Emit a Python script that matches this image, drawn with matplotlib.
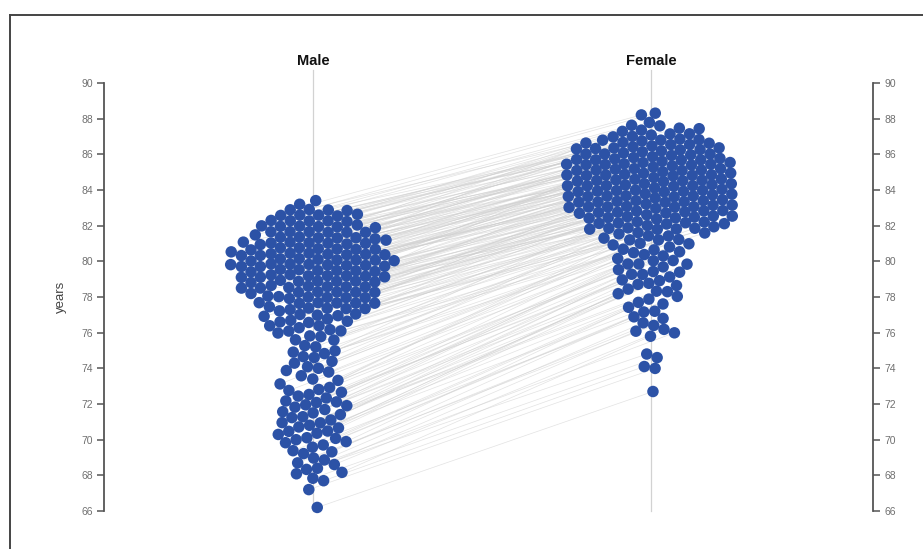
import numpy as np
import matplotlib
matplotlib.use("Agg")
import matplotlib.pyplot as plt
from matplotlib.lines import Line2D

# ---------------- data (life expectancy, years) ----------------
categories = ["Male", "Female"]

male = [
    83.4,
    83.1, 82.9, 82.8, 82.8, 82.7,
    82.6, 82.6, 82.5, 82.4, 82.4, 82.3, 82.3, 82.2, 82.2, 82.1, 82.1,
    82.0, 81.9, 81.9, 81.9, 81.8, 81.8, 81.7, 81.7, 81.6, 81.6, 81.5, 81.5,
    81.4, 81.4, 81.3, 81.3, 81.2, 81.2, 81.2, 81.1, 81.1, 81.0, 81.0, 81.0, 80.9, 80.9,
    80.8, 80.8, 80.7, 80.7, 80.7, 80.6, 80.6, 80.6, 80.5, 80.5, 80.5, 80.4, 80.4, 80.4, 80.3, 80.3,
    80.2, 80.2, 80.2, 80.1, 80.1, 80.1, 80.0, 80.0, 80.0, 80.0, 79.9, 79.9, 79.9, 79.8, 79.8, 79.8,
    79.7, 79.7, 79.7, 79.6, 79.6, 79.6, 79.5, 79.5, 79.5, 79.4, 79.4, 79.4, 79.3, 79.3, 79.3, 79.2,
    79.2, 79.2, 79.1, 79.1, 79.1, 79.0, 79.0, 79.0, 78.9, 78.9, 78.9, 78.8, 78.8, 78.8, 78.7, 78.7,
    78.6, 78.6, 78.6, 78.5, 78.5, 78.4, 78.4, 78.4, 78.3, 78.3, 78.2, 78.2, 78.1, 78.1, 78.0,
    78.0, 77.9, 77.9, 77.8, 77.8, 77.7, 77.7, 77.6, 77.6, 77.5, 77.5, 77.4, 77.4,
    77.3, 77.2, 77.2, 77.1, 77.0, 77.0, 76.9, 76.9, 76.8, 76.7,
    76.6, 76.5, 76.5, 76.4, 76.3, 76.3, 76.2, 76.1,
    76.0, 75.9, 75.8, 75.6, 75.5,
    75.3, 75.1, 75.0, 74.9, 74.8, 74.7, 74.6, 74.5,
    74.3, 74.1, 74.0, 73.9, 73.8, 73.6, 73.4, 73.3,
    73.1, 72.9, 72.8, 72.7, 72.6, 72.5, 72.4, 72.3, 72.2, 72.2, 72.1, 72.0,
    71.9, 71.8, 71.7, 71.6, 71.5, 71.4, 71.3, 71.2, 71.1, 71.0, 70.9, 70.8, 70.7,
    70.6, 70.5, 70.5, 70.4, 70.3, 70.2, 70.1, 70.0, 69.9, 69.8, 69.7,
    69.5, 69.4, 69.3, 69.2, 69.0, 68.8, 68.7, 68.6, 68.5, 68.3, 68.2, 68.1, 67.9, 67.7,
    67.2, 66.2,
]

female = [
    88.3, 88.2,
    87.8, 87.6, 87.5,
    87.3, 87.2, 87.1, 87.0, 87.0, 86.9, 86.9,
    86.8, 86.7, 86.7, 86.6, 86.6, 86.5, 86.5, 86.4, 86.4, 86.3, 86.3,
    86.2, 86.2, 86.1, 86.1, 86.1, 86.0, 86.0, 86.0, 85.9, 85.9, 85.9, 85.9, 85.8, 85.8, 85.8, 85.7, 85.7,
    85.7, 85.6, 85.6, 85.6, 85.5, 85.5, 85.5, 85.5, 85.4, 85.4, 85.4, 85.3, 85.3, 85.3, 85.3, 85.2, 85.2, 85.2,
    85.1, 85.1, 85.1, 85.1, 85.0, 85.0, 85.0, 85.0, 84.9, 84.9, 84.9, 84.9, 84.8, 84.8, 84.8, 84.7, 84.7, 84.7, 84.7,
    84.6, 84.6, 84.6, 84.6, 84.5, 84.5, 84.5, 84.5, 84.4, 84.4, 84.4, 84.3, 84.3, 84.3, 84.3, 84.2, 84.2, 84.2, 84.2, 84.1, 84.1, 84.1,
    84.0, 84.0, 84.0, 84.0, 83.9, 83.9, 83.9, 83.9, 83.8, 83.8, 83.8, 83.7, 83.7, 83.7, 83.7, 83.6, 83.6, 83.6, 83.5, 83.5, 83.5,
    83.4, 83.4, 83.4, 83.3, 83.3, 83.3, 83.3, 83.2, 83.2, 83.2, 83.1, 83.1, 83.1, 83.0, 83.0, 83.0, 82.9, 82.9, 82.9,
    82.8, 82.8, 82.7, 82.7, 82.7, 82.6, 82.6, 82.5, 82.5, 82.5, 82.4, 82.4, 82.3, 82.3, 82.3, 82.2, 82.2,
    82.1, 82.1, 82.0, 82.0, 81.9, 81.9, 81.8, 81.8, 81.7, 81.7, 81.6, 81.6, 81.5,
    81.4, 81.3, 81.2, 81.1, 81.0, 80.9, 80.8, 80.7,
    80.6, 80.5, 80.5, 80.4, 80.3, 80.2, 80.1, 80.0, 79.9,
    79.8, 79.8, 79.7, 79.6, 79.5, 79.4, 79.3, 79.2, 79.1, 79.0,
    78.9, 78.8, 78.7, 78.6, 78.5, 78.4, 78.3, 78.2, 78.1,
    77.9, 77.7, 77.6, 77.4, 77.2, 77.1, 76.9, 76.8,
    76.6, 76.4, 76.2, 76.1, 76.0, 75.8,
    74.8, 74.6, 74.1, 74.0,
    72.7,
]

y_ticks = [66, 68, 70, 72, 74, 76, 78, 80, 82, 84, 86, 88, 90]
y_label = "years"

# ---------------- layout ----------------
W, H = 923, 549
fig = plt.figure(figsize=(W / 100, H / 100), dpi=100)
ax_left_px, ax_right_px = 104, 873
ax_top_px, ax_bot_px = 83, 511
ax = fig.add_axes([ax_left_px / W, 1 - ax_bot_px / H,
                   (ax_right_px - ax_left_px) / W, (ax_bot_px - ax_top_px) / H])

ymin, ymax = 66, 90
ax.set_ylim(ymin, ymax)
px_per_year = (ax_bot_px - ax_top_px) / (ymax - ymin)

cat_px = [313, 651]          # pixel centres of the two columns
sep_px = cat_px[1] - cat_px[0]
ax.set_xlim(-(cat_px[0] - ax_left_px) / sep_px, 1 + (ax_right_px - cat_px[1]) / sep_px)


def swarm(values, d_px, iters=800):
    """Force-style beeswarm (collision + x centring + y anchoring).
    Returns x offsets (pixels) and displayed y (data units)."""
    vals = np.asarray(values, float)
    y0 = vals * px_per_year
    n = len(vals)
    k = np.arange(n)
    ang = k * np.pi * (3 - np.sqrt(5))
    x = 1.5 * np.sqrt(k + 0.5) * np.cos(ang)
    y = y0.copy()
    eye = np.eye(n, dtype=bool)
    for it in range(iters):
        for _ in range(5):
            dx = x[:, None] - x[None, :]
            dy = y[:, None] - y[None, :]
            dist = np.sqrt(dx ** 2 + dy ** 2)
            dist[eye] = np.inf
            dist = np.maximum(dist, 1e-3)
            ov = np.clip(d_px - dist, 0, None)
            f = ov / dist * 0.5
            x = x + (dx * f).sum(axis=1) * 1.0
            y = y + (dy * f).sum(axis=1) * 0.5
        x = x - x * 0.002
        y = y + (y0 - y) * 0.05
    return x, y / px_per_year


D = 11.0
mxp, my = swarm(male, D)
fxp, fy = swarm(female, D)
mx = mxp / sep_px + 0
fx = fxp / sep_px + 1

m_arr = np.asarray(male)
f_arr = np.asarray(female)
mi = np.argsort(m_arr, kind="stable")
fi = np.argsort(f_arr, kind="stable")

# connecting lines (rank-matched pairs)
for a, b in zip(mi, fi):
    ax.plot([mx[a], fx[b]], [my[a], fy[b]], color="#cfcfcf",
            lw=0.5, alpha=0.6, zorder=1, solid_capstyle="butt")

# column guide lines
top_guide = ymax + (ax_top_px - 70) / px_per_year
for k in range(2):
    ax.plot([k, k], [ymin, top_guide], color="#d2d2d2", lw=0.9, zorder=0, clip_on=False)

dot_d_pt = 11.5 * 72 / 100
ax.scatter(mx, my, s=dot_d_pt ** 2, color="#2c52a6", edgecolors="none", zorder=3, clip_on=False)
ax.scatter(fx, fy, s=dot_d_pt ** 2, color="#2c52a6", edgecolors="none", zorder=3, clip_on=False)

# titles
title_y = ymax + (ax_top_px - 61) / px_per_year
for k, name in enumerate(categories):
    ax.text(k, title_y, name, ha="center", va="center", fontsize=10.5,
            fontweight="bold", family=["Liberation Sans Narrow", "Liberation Sans", "DejaVu Sans"],
            color="#111111", clip_on=False)

# axes styling
for s in ["top", "bottom"]:
    ax.spines[s].set_visible(False)
for s in ["left", "right"]:
    ax.spines[s].set_color("#555555")
    ax.spines[s].set_linewidth(1.3)
ax.set_xticks([])
ax.set_yticks(y_ticks)
ax.tick_params(axis="y", which="both", left=True, right=True, labelleft=True, labelright=True,
               direction="out", length=5, width=1.1, color="#555555", labelsize=7.5,
               labelcolor="#707070", pad=3)
for lab in ax.get_yticklabels():
    lab.set_family(["Liberation Sans", "DejaVu Sans"])
ax.set_ylabel(y_label, fontsize=9.5, color="#444444", family=["Liberation Sans", "DejaVu Sans"],
              labelpad=10)
ax.patch.set_alpha(0)

# outer frame (top and left edges visible)
fig.add_artist(Line2D([10 / W, 1], [1 - 15 / H, 1 - 15 / H], color="#444444", lw=1.4))
fig.add_artist(Line2D([10 / W, 10 / W], [0, 1 - 15 / H], color="#444444", lw=1.4))

fig.savefig("out.png", dpi=100)
